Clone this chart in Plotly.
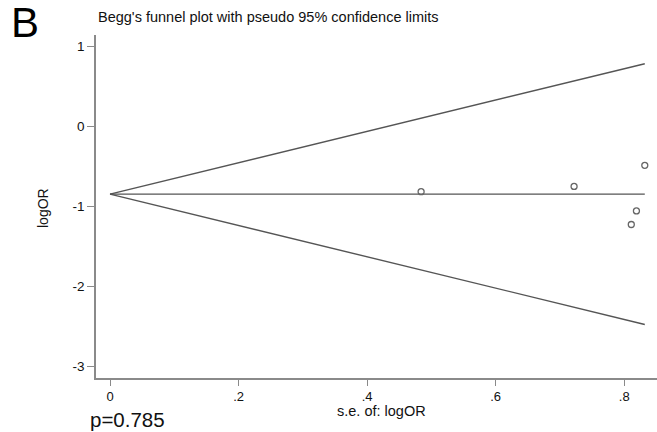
import plotly.graph_objects as go

# ---- data ----
se_logOR = [0.484, 0.722, 0.832, 0.819, 0.811]
logOR = [-0.82, -0.754, -0.49, -1.06, -1.23]
pooled_logOR = -0.85
x_tickvals = [0, 0.2, 0.4, 0.6, 0.8]
x_ticktext = ["0", ".2", ".4", ".6", ".8"]
y_tickvals = [1, 0, -1, -2, -3]
y_ticktext = ["1", "0", "-1", "-2", "-3"]
p_value_text = "p=0.785"

max_se = max(se_logOR)
upper = pooled_logOR + 1.96 * max_se
lower = pooled_logOR - 1.96 * max_se

FONT = "Liberation Sans, Arial, sans-serif"
LINE_COL = "#555555"
AXIS_COL = "#8a8a8a"

fig = go.Figure()
# pseudo 95% confidence limits
fig.add_trace(go.Scatter(x=[0, max_se], y=[pooled_logOR, upper], mode="lines",
                         line=dict(color=LINE_COL, width=1.4), hoverinfo="skip"))
fig.add_trace(go.Scatter(x=[0, max_se], y=[pooled_logOR, lower], mode="lines",
                         line=dict(color=LINE_COL, width=1.4), hoverinfo="skip"))
# pooled estimate line
fig.add_trace(go.Scatter(x=[0, max_se], y=[pooled_logOR, pooled_logOR], mode="lines",
                         line=dict(color=LINE_COL, width=1.2), hoverinfo="skip"))
# studies
fig.add_trace(go.Scatter(x=se_logOR, y=logOR, mode="markers",
                         marker=dict(symbol="circle-open", size=6, color="#666666",
                                     line=dict(width=1.3, color="#707070"))))

W, H = 657, 432
L, R, T, B = 96, 0, 35, 54
pw, ph = W - L - R, H - T - B

def px(x):
    return (x - L) / pw

def py(y):
    return (H - B - y) / ph

fig.update_layout(
    width=W, height=H,
    margin=dict(l=L, r=R, t=T, b=B),
    paper_bgcolor="white", plot_bgcolor="white",
    showlegend=False,
    font=dict(family=FONT, color="#111111"),
    xaxis=dict(range=[-0.0218, 0.851], showgrid=False, zeroline=False,
               showline=True, linecolor=AXIS_COL, linewidth=1.5,
               ticks="outside", ticklen=6, tickwidth=1.2, tickcolor=AXIS_COL,
               tickvals=x_tickvals, ticktext=x_ticktext,
               tickfont=dict(size=13, family=FONT, color="#111111")),
    yaxis=dict(range=[-3.15, 1.14], showgrid=False, zeroline=False,
               showline=True, linecolor=AXIS_COL, linewidth=1.5,
               ticks="outside", ticklen=7, tickwidth=1.2, tickcolor=AXIS_COL,
               tickvals=y_tickvals, ticktext=y_ticktext,
               tickfont=dict(size=13.5, family=FONT, color="#111111")),
    annotations=[
        dict(text="B", xref="paper", yref="paper", x=px(9), y=py(22),
             xanchor="left", yanchor="middle", showarrow=False,
             font=dict(size=42, family=FONT, color="#000000")),
        dict(text="Begg's funnel plot with pseudo 95% confidence limits",
             xref="paper", yref="paper", x=px(96), y=py(17),
             xanchor="left", yanchor="middle", showarrow=False,
             font=dict(size=14.5, family=FONT, color="#111111")),
        dict(text="s.e. of: logOR", xref="paper", yref="paper", x=px(381), y=py(411),
             xanchor="center", yanchor="middle", showarrow=False,
             font=dict(size=14.5, family=FONT, color="#111111")),
        dict(text="logOR", xref="paper", yref="paper", x=px(43), y=py(208),
             xanchor="center", yanchor="middle", showarrow=False, textangle=-90,
             font=dict(size=14, family=FONT, color="#111111")),
        dict(text=p_value_text, xref="paper", yref="paper", x=px(88), y=py(419),
             xanchor="left", yanchor="middle", showarrow=False,
             font=dict(size=20.5, family=FONT, color="#111111")),
    ],
)

fig.write_html("out.html", config={"displayModeBar": False},
               post_script="document.body.style.margin='0';")
